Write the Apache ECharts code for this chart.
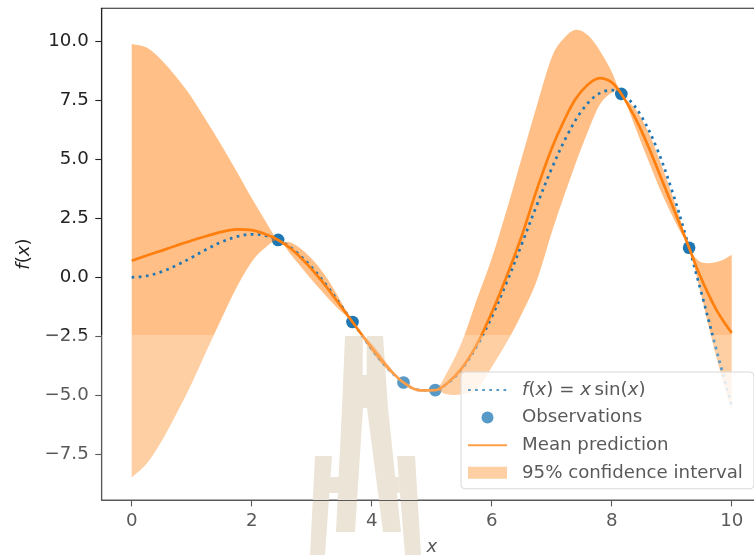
<!DOCTYPE html>
<html>
<head>
<meta charset="utf-8">
<script src="https://cdn.jsdelivr.net/npm/echarts@6/dist/echarts.min.js"></script>
<style>
html,body{margin:0;padding:0;background:#fff;}
#chart{width:754px;height:555px;}
</style>
</head>
<body>
<div id="chart"></div>
<script>
// ---- data ----
const fxX = [0,0.25,0.5,0.75,1,1.25,1.5,1.75,2,2.25,2.5,2.75,3,3.25,3.5,3.75,4,4.25,4.5,4.75,5,5.25,5.5,5.75,6,6.25,6.5,6.75,7,7.25,7.5,7.75,8,8.25,8.5,8.75,9,9.25,9.5,9.75,10];
const fxY = [0,0.06,0.24,0.51,0.84,1.19,1.50,1.72,1.82,1.75,1.50,1.05,0.42,-0.35,-1.23,-2.14,-3.03,-3.80,-4.40,-4.75,-4.79,-4.51,-3.88,-2.92,-1.68,-0.21,1.40,3.04,4.60,5.97,7.04,7.71,7.92,7.61,6.79,5.47,3.71,1.61,-0.71,-3.12,-5.44];

const obsX = [2.44,3.68,4.53,5.06,8.16,9.29];
const obsY = [1.58,-1.89,-4.45,-4.77,7.76,1.25];

const predX = [0,0.25,0.5,0.75,1,1.25,1.5,1.75,2,2.2,2.44,2.65,2.85,3.05,3.25,3.45,3.68,3.9,4.1,4.3,4.53,4.8,5.06,5.25,5.5,5.75,6,6.25,6.5,6.75,7,7.2,7.4,7.6,7.8,8,8.16,8.4,8.6,8.8,9,9.15,9.29,9.45,9.6,9.75,9.9,10];
const meanY = [0.70,0.92,1.13,1.35,1.56,1.75,1.92,2.03,2.00,1.85,1.58,1.22,0.75,0.20,-0.42,-1.10,-1.89,-2.65,-3.30,-3.90,-4.45,-4.78,-4.77,-4.50,-3.85,-2.85,-1.50,0.05,1.75,3.70,5.45,6.60,7.55,8.15,8.43,8.25,7.76,6.70,5.60,4.35,3.10,2.15,1.25,0.20,-0.65,-1.40,-2.00,-2.35];
const lowerY = [-8.47,-7.88,-6.92,-5.75,-4.49,-3.10,-1.73,-0.42,0.65,1.20,1.58,0.97,0.35,-0.25,-0.82,-1.35,-1.89,-2.77,-3.48,-4.02,-4.45,-4.83,-4.77,-4.95,-4.95,-4.75,-3.80,-2.75,-1.55,-0.15,1.90,3.40,4.83,6.15,7.30,7.80,7.76,6.30,5.00,3.75,2.65,1.90,1.25,-0.30,-1.90,-3.45,-4.80,-5.65];
const upperY = [9.87,9.72,9.18,8.45,7.61,6.60,5.57,4.48,3.35,2.50,1.58,1.47,1.15,0.65,-0.02,-0.85,-1.89,-2.53,-3.12,-3.78,-4.45,-4.73,-4.77,-4.05,-2.75,-0.95,0.80,2.85,5.05,7.25,9.30,10.10,10.47,10.25,9.60,8.70,7.76,7.10,6.20,4.95,3.55,2.40,1.25,0.70,0.60,0.65,0.80,0.95];

const xTicks = [0,2,4,6,8,10];
const yTicks = [-7.5,-5,-2.5,0,2.5,5,7.5,10];

const names = ['f(x) = x sin(x)','Observations','Mean prediction','95% confidence interval'];

// ---- styling ----
const FONT = 'DejaVu Sans';
const FS = 18.2;
const TXT = '#222';
const BLUE = '#1f77b4';
const ORANGE = '#ff7f0e';
const BAND = 'rgba(255,127,14,0.5)';

const chart = echarts.init(document.getElementById('chart'), null, {renderer:'canvas'});

const zip = (xs, ys) => xs.map((x,i)=>[x, ys[i]]);

const richBase = {fontFamily:FONT, fontSize:FS, color:TXT};
const rich = {
  g:{width:10, fontFamily:FONT, fontSize:FS},
  n:Object.assign({}, richBase),
  i:Object.assign({fontStyle:'italic'}, richBase)
};

function legendFmt(name){
  if (name === names[0]) return '{g|}{i|f}{n|(}{i|x}{n|) = }{i|x}{n|\u2009sin(}{i|x}{n|)}';
  return '{g|}{n|' + name + '}';
}

// Catmull-Rom smoothing of pixel points into bezier path commands
function splinePath(pts, t, start){
  let d = start ? ('M' + pts[0][0] + ',' + pts[0][1]) : ('L' + pts[0][0] + ',' + pts[0][1]);
  for (let i = 0; i < pts.length - 1; i++){
    const p0 = pts[Math.max(i-1,0)], p1 = pts[i], p2 = pts[i+1], p3 = pts[Math.min(i+2, pts.length-1)];
    const c1 = [p1[0] + (p2[0]-p0[0])*t/6, p1[1] + (p2[1]-p0[1])*t/6];
    const c2 = [p2[0] - (p3[0]-p1[0])*t/6, p2[1] - (p3[1]-p1[1])*t/6];
    d += 'C' + c1[0] + ',' + c1[1] + ',' + c2[0] + ',' + c2[1] + ',' + p2[0] + ',' + p2[1];
  }
  return d;
}

const logoFill = '#e6dbc8';
function poly(points, fill, z){
  return {type:'polygon', shape:{points:points}, style:{fill:fill}, z:z, silent:true};
}

const option = {
  animation:false,
  backgroundColor:'#fff',
  grid:{left:101.7, top:8.3, width:660, height:491.7, show:true, borderColor:'#222', borderWidth:1.1, backgroundColor:'transparent', outerBoundsMode:'none', containLabel:false},
  xAxis:{
    type:'value', min:-0.5, max:10.5,
    splitLine:{show:false},
    axisLine:{show:true, onZero:false, lineStyle:{color:'#222', width:1.1}},
    axisTick:{show:true, length:6.4, lineStyle:{color:'#222', width:1.1}, customValues:xTicks},
    axisLabel:{customValues:xTicks, margin:12, fontFamily:FONT, fontSize:FS, color:TXT, formatter:v=>String(v)}
  },
  yAxis:{
    type:'value', min:-9.42, max:11.38,
    splitLine:{show:false},
    axisLine:{show:true, onZero:false, lineStyle:{color:'#222', width:1.1}},
    axisTick:{show:true, length:6.4, lineStyle:{color:'#222', width:1.1}, customValues:yTicks},
    axisLabel:{customValues:yTicks, margin:13, fontFamily:FONT, fontSize:FS, color:TXT,
      formatter:v=>(v<0?'\u2212':'')+Math.abs(v).toFixed(1)}
  },
  legend:{
    orient:'vertical', left:461, top:372,
    padding:[8,11,6,6],
    itemWidth:39, itemHeight:12, itemGap:7.6,
    backgroundColor:'rgba(255,255,255,0.8)', borderColor:'#cccccc', borderWidth:1, borderRadius:4,
    textStyle:{fontFamily:FONT, fontSize:FS, color:TXT, lineHeight:20, rich:rich},
    formatter:legendFmt,
    data:[
      {name:names[0], itemStyle:{opacity:0}},
      {name:names[1], icon:'circle'},
      {name:names[2], itemStyle:{opacity:0}},
      {name:names[3], icon:'rect', itemStyle:{color:BAND, borderWidth:0}}
    ],
    z:20
  },
  graphic:[
    // watermark logo (behind the data)
    poly([[345,336],[383,336],[388,408],[342,408]], logoFill, 0),
    poly([[362.7,336],[366.7,336],[366.7,375],[362.7,375]], '#ffffff', 0.5),
    poly([[342,408],[363,408],[355,532],[336,532]], logoFill, 0),
    poly([[367,408],[388,408],[401,532],[383,532]], logoFill, 0),
    poly([[315,456],[332,456],[325,555],[310,555]], logoFill, 0),
    poly([[329,477],[341,477],[340,493],[327,493]], logoFill, 0),
    poly([[397,456],[415,456],[421,555],[405,555]], logoFill, 0),
    poly([[389,477],[399,477],[400,493],[391,493]], logoFill, 0),
    // watermark wash over lower part
    {type:'rect', shape:{x:0, y:335, width:754, height:220}, style:{fill:'rgba(255,255,255,0.25)'}, z:100, silent:true},
    // axis titles
    {type:'text', x:432, y:547, z:30,
      style:{text:'{i|x}', rich:{i:{fontStyle:'italic', fontFamily:FONT, fontSize:FS, fill:TXT, color:TXT}}, align:'center', verticalAlign:'middle', fontFamily:FONT, fontSize:FS, fill:TXT}},
    {type:'text', x:24, y:254, rotation:Math.PI/2, z:30,
      style:{text:'{i|f}{n|(}{i|x}{n|)}', rich:{i:{fontStyle:'italic', fontFamily:FONT, fontSize:FS, fill:TXT, color:TXT}, n:{fontFamily:FONT, fontSize:FS, fill:TXT, color:TXT}}, align:'center', verticalAlign:'middle', fontFamily:FONT, fontSize:FS, fill:TXT}}
  ],
  series:[
    {
      name:names[1], type:'scatter', data:zip(obsX, obsY), symbol:'circle', symbolSize:12.7,
      itemStyle:{color:BLUE, opacity:1}, z:3, silent:true
    },
    {
      name:names[3], type:'custom', z:4, silent:true,
      itemStyle:{color:BAND},
      data:predX.map((x,i)=>[x, lowerY[i], upperY[i]]),
      encode:{x:0, y:[1,2]},
      renderItem:function(params, api){
        if (params.dataIndex !== 0) return null;
        const top = predX.map((x,i)=>api.coord([x, upperY[i]]));
        const bot = predX.map((x,i)=>api.coord([x, lowerY[i]])).reverse();
        const d = splinePath(top, 1, true) + splinePath(bot, 1, false) + 'Z';
        return {type:'path', shape:{pathData:d}, style:{fill:BAND, stroke:null}};
      }
    },
    {
      name:names[0], type:'line', data:zip(fxX, fxY), smooth:0.35, symbol:'none',
      lineStyle:{color:BLUE, width:2.7, type:[2.7,4.4], cap:'butt'}, itemStyle:{color:BLUE}, z:5, silent:true
    },
    {
      name:names[2], type:'line', data:zip(predX, meanY), smooth:0.35, symbol:'none',
      lineStyle:{color:ORANGE, width:2.7}, itemStyle:{color:ORANGE}, z:6, silent:true
    }
  ]
};
chart.setOption(option);
</script>
</body>
</html>
